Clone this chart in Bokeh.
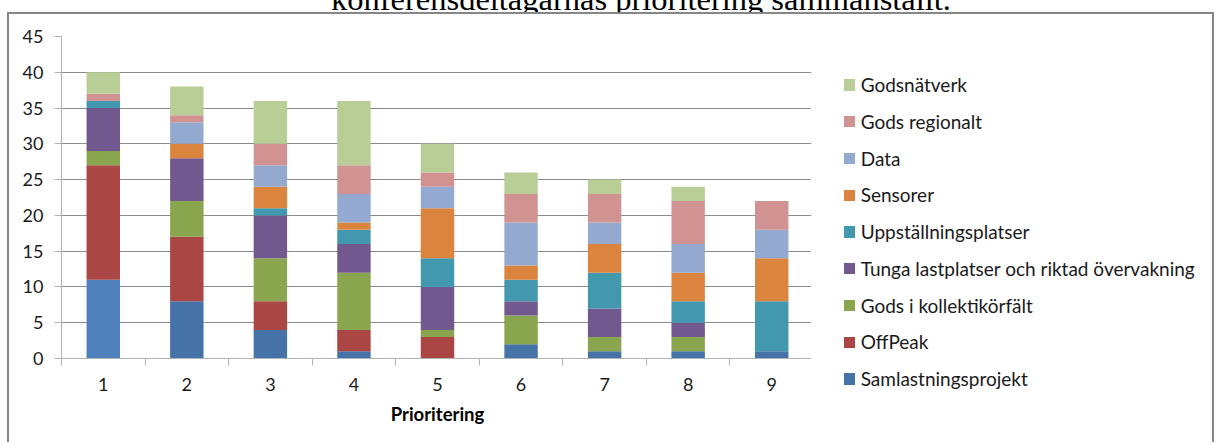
from bokeh.plotting import figure
from bokeh.layouts import column, row
from bokeh.models import ColumnDataSource, FixedTicker, Div
from bokeh.embed import file_html
from bokeh.resources import INLINE

# ---- data ----
prioritering = [1, 2, 3, 4, 5, 6, 7, 8, 9]
tick_labels = ["1", "2", "3", "4", "5", "6", "7", "8", "9"]
series_names = ["Samlastningsprojekt", "OffPeak", "Gods i kollektikörfält",
                "Tunga lastplatser och riktad övervakning", "Uppställningsplatser",
                "Sensorer", "Data", "Gods regionalt", "Godsnätverk"]
samlastning = [11, 8, 4, 1, 0, 2, 1, 1, 1]
offpeak = [16, 9, 4, 3, 3, 0, 0, 0, 0]
kollektiv = [2, 5, 6, 8, 1, 4, 2, 2, 0]
tunga = [6, 6, 6, 4, 6, 2, 4, 2, 0]
uppstallning = [1, 0, 1, 2, 4, 3, 5, 3, 7]
sensorer = [0, 2, 3, 1, 7, 2, 4, 4, 6]
data_s = [0, 3, 3, 4, 3, 6, 3, 4, 4]
gods_regionalt = [1, 1, 3, 4, 2, 4, 4, 6, 4]
godsnatverk = [3, 4, 6, 9, 4, 3, 2, 2, 0]
y_ticks = [0, 5, 10, 15, 20, 25, 30, 35, 40, 45]
title_text = "konferensdeltagarnas prioritering sammanställt."
x_label = "Prioritering"

colors = ["#4572A7", "#AA4643", "#89A54E", "#71588F", "#4198AF",
          "#DB843D", "#93A9CF", "#D19392", "#B9CD96"]
first_colors = ["#4F81BD"] + ["#4572A7"] * 8

keys = ["s0", "s1", "s2", "s3", "s4", "s5", "s6", "s7", "s8"]
series = [samlastning, offpeak, kollektiv, tunga, uppstallning,
          sensorer, data_s, gods_regionalt, godsnatverk]
src_data = {"x": prioritering, "c0": first_colors}
for k, s in zip(keys, series):
    src_data[k] = s
source = ColumnDataSource(src_data)

FONT = "Lato"
AX = "#b3b3b3"
BORDER = "#868686"

# ---- title strip (the page top cuts the upper part of the text, as in the reference) ----
title_html = (
    '<div style="position:relative;width:1218px;height:12px;overflow:hidden;">'
    '<div style="position:absolute;left:32px;top:-21.5px;width:1218px;'
    'text-align:center;white-space:nowrap;font-family:\'Liberation Serif\';'
    'font-size:32.5px;line-height:40px;color:#000;">'
    + title_text + '</div></div>'
)
title_div = Div(text=title_html, width=1218, height=12,
                styles={"overflow": "hidden", "margin": "0px", "padding": "0px"})

# ---- main chart ----
p = figure(width=804, height=430, output_backend="svg", toolbar_location=None,
           x_range=(0.5, 9.5), y_range=(0, 45),
           min_border_left=52, min_border_right=0,
           min_border_top=22, min_border_bottom=86)
p.styles = {"margin-left": "7px", "border-style": "solid",
            "border-color": BORDER, "border-width": "2px 0px 0px 2px"}
p.outline_line_color = None

fill_colors = ["c0"] + colors[1:]
renderers = p.vbar_stack(keys, x="x", width=0.4, source=source,
                         fill_color=fill_colors, line_color=None)

p.yaxis.ticker = FixedTicker(ticks=y_ticks)
p.yaxis.axis_line_color = AX
p.yaxis.major_tick_line_color = AX
p.yaxis.major_tick_out = 7
p.yaxis.major_tick_in = 0
p.yaxis.minor_tick_line_color = None
p.yaxis.major_label_standoff = 11
p.yaxis.major_label_text_font = FONT
p.yaxis.major_label_text_font_size = "18px"
p.yaxis.major_label_text_color = "#1a1a1a"

p.xaxis.ticker = FixedTicker(ticks=prioritering,
                             minor_ticks=[v - 0.5 for v in prioritering] + [9.5])
p.xaxis.major_label_overrides = {v: t for v, t in zip(prioritering, tick_labels)}
p.xaxis.axis_line_color = AX
p.xaxis.major_tick_line_color = None
p.xaxis.major_tick_out = 0
p.xaxis.major_tick_in = 0
p.xaxis.minor_tick_line_color = AX
p.xaxis.minor_tick_out = 7
p.xaxis.minor_tick_in = 0
p.xaxis.major_label_standoff = 12
p.xaxis.major_label_text_font = FONT
p.xaxis.major_label_text_font_size = "18px"
p.xaxis.major_label_text_color = "#1a1a1a"
p.xaxis.axis_label = x_label
p.xaxis.axis_label_text_font = FONT
p.xaxis.axis_label_text_font_style = "bold"
p.xaxis.axis_label_text_font_size = "18.5px"
p.xaxis.axis_label_text_color = "#000000"
p.xaxis.axis_label_standoff = 9

p.xgrid.visible = False
p.ygrid.ticker = FixedTicker(ticks=y_ticks)
p.ygrid.grid_line_color = "#8c8c8c"
p.ygrid.grid_line_width = 1

# ---- legend panel (top item = last series, as in the reference) ----
legend_colors = ["#4572A7"] + colors[1:]
parts = ['<div style="position:relative;width:403px;height:430px;">']
order = list(range(len(series_names)))[::-1]
for row_i, si in enumerate(order):
    cy = 71 + row_i * 36.75
    parts.append(
        '<div style="position:absolute;left:32.7px;top:%.2fpx;width:11.3px;'
        'height:11.3px;background:%s;"></div>' % (cy - 5.65, legend_colors[si]))
    parts.append(
        '<div style="position:absolute;left:49.7px;top:%.2fpx;height:22px;'
        'line-height:22px;white-space:nowrap;font-family:Lato;font-size:19px;'
        'color:#1a1a1a;">%s</div>' % (cy - 11, series_names[si]))
parts.append('</div>')
legend_div = Div(text="".join(parts), width=403, height=430,
                 styles={"border-style": "solid", "border-color": BORDER,
                         "border-width": "2px 2px 0px 0px",
                         "margin": "0px", "padding": "0px"})

layout = column(title_div, row(p, legend_div, spacing=0), spacing=0)
open("out.html", "w").write(file_html(layout, INLINE))
